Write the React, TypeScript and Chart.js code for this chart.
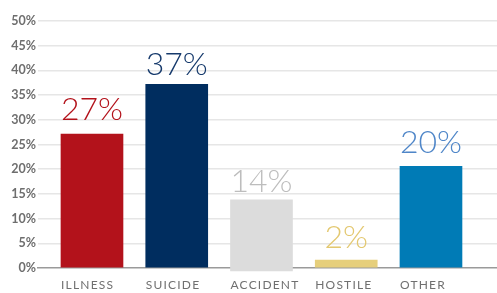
import React, { useEffect, useRef } from "react";
import { Chart, registerables } from "chart.js";

Chart.register(...registerables);

const categories = ["ILLNESS", "SUICIDE", "ACCIDENT", "HOSTILE", "OTHER"];
const barTops = [27.1, 37.2, 13.8, 1.6, 20.6];
const barBottoms = [0, 0, -0.6, 0, 0];
const valueLabels = ["27%", "37%", "14%", "2%", "20%"];
const barColors = ["#b3121b", "#002d5f", "#dcdcdc", "#e6cf7c", "#007bb6"];
const labelColors = ["#b3121b", "#163a6c", "#bdbdbd", "#e3c870", "#4f86c8"];
const yTicks = [0, 5, 10, 15, 20, 25, 30, 35, 40, 45, 50];

const labelGaps = [14, 9, 8, 12, 13];

const valueLabelPlugin = {
  id: "valueLabels",
  afterDatasetsDraw(chart: any) {
    const ctx = chart.ctx;
    const meta = chart.getDatasetMeta(0);
    ctx.save();
    ctx.font = "300 32px Lato, 'Open Sans', sans-serif";
    ctx.textAlign = "center";
    ctx.textBaseline = "alphabetic";
    meta.data.forEach((el: any, i: number) => {
      ctx.fillStyle = labelColors[i];
      ctx.fillText(valueLabels[i], el.x, el.y - labelGaps[i]);
    });
    ctx.restore();
  },
};

const spacingPlugin = {
  id: "xLetterSpacing",
  afterLayout(chart: any) {
    const scale = chart.scales.x;
    if (scale && !scale.__patched) {
      const orig = scale.drawLabels.bind(scale);
      scale.drawLabels = (area: any) => {
        const ctx = chart.ctx;
        ctx.save();
        (ctx as any).letterSpacing = "1.2px";
        orig(area);
        ctx.restore();
      };
      scale.__patched = true;
    }
  },
};

export default function App() {
  const ref = useRef<HTMLCanvasElement | null>(null);
  useEffect(() => {
    if (!ref.current) return;
    const data = categories.map((_, i) => ({ x: i, y: [barBottoms[i], barTops[i]] }));
    const chart = new Chart(ref.current, {
      type: "bar",
      data: {
        datasets: [
          {
            data: data as any,
            backgroundColor: barColors,
            borderWidth: 0,
            barThickness: 62,
            clip: false as any,
          },
        ],
      },
      options: {
        animation: false,
        responsive: false,
        maintainAspectRatio: false,
        layout: { padding: { top: 21, left: 0, right: 0, bottom: 0 } },
        plugins: { legend: { display: false }, tooltip: { enabled: false } },
        scales: {
          x: {
            type: "linear",
            min: -0.637,
            max: 4.779,
            offset: false,
            grid: { display: false, drawTicks: false },
            border: { display: true, color: "#9a9a9a", width: 1.5 },
            afterBuildTicks: (axis: any) => {
              axis.ticks = categories.map((_, i) => ({ value: i }));
            },
            afterFit: (axis: any) => {
              axis.height = 25;
            },
            ticks: {
              autoSkip: false,
              maxRotation: 0,
              align: "start",
              labelOffset: -31,
              padding: 10,
              color: "#707070",
              font: { family: "Lato, 'Open Sans', sans-serif", size: 12 },
              callback: (v: any) => categories[v as number] ?? "",
            },
          },
          y: {
            min: 0,
            max: 50,
            afterBuildTicks: (axis: any) => {
              axis.ticks = yTicks.map((v) => ({ value: v }));
            },
            afterFit: (axis: any) => {
              axis.width = 38;
            },
            grid: {
              drawTicks: false,
              color: (c: any) => (c.tick && c.tick.value === 0 ? "rgba(0,0,0,0)" : "#e6e6e6"),
              lineWidth: 1.5,
            },
            border: { display: false },
            ticks: {
              padding: 2,
              color: "#6e6e6e",
              font: { family: "Lato, 'Open Sans', sans-serif", size: 12.5, weight: "bold" as any },
              callback: (v: any) => v + "%",
            },
          },
        },
      },
      plugins: [valueLabelPlugin, spacingPlugin],
    });
    return () => chart.destroy();
  }, []);
  return (
    <div style={{ position: "absolute", left: 0, top: 0, width: 497, height: 293, background: "#fff" }}>
      <canvas ref={ref} width={497} height={293} style={{ width: 497, height: 293 }} />
    </div>
  );
}
